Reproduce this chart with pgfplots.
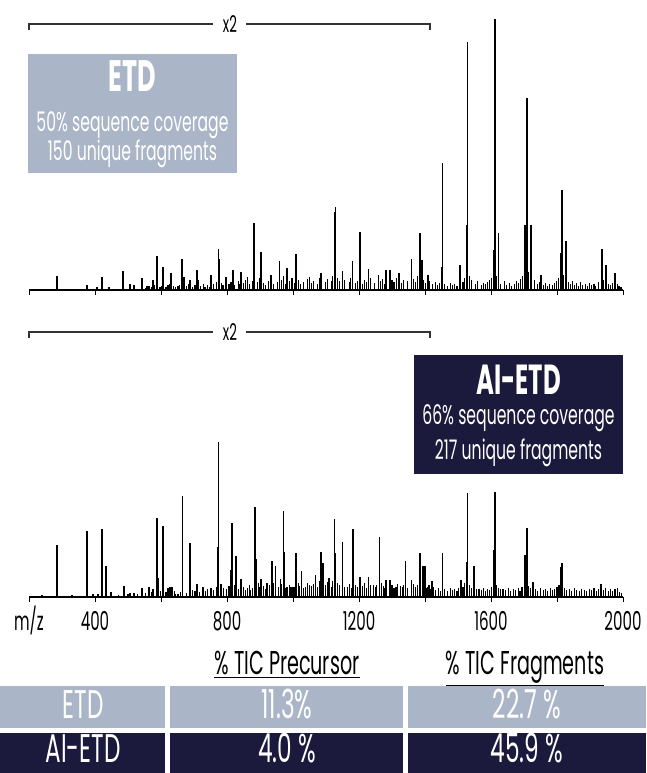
\documentclass[border=0pt]{standalone}
\usepackage{pgfplots}
\pgfplotsset{compat=1.18}
\usepackage{fontspec}
\setmainfont{Poppins}[FakeStretch=0.58]
\definecolor{etdc}{HTML}{AAB5C7}
\definecolor{aic}{HTML}{1B1A3D}
\newcommand\fs[1]{\fontsize{#1}{#1}\selectfont}
\pgfplotsset{spec/.style={scale only axis, width=594pt, xmin=200, xmax=2000, ymin=0,
  axis x line=bottom, axis y line=none, axis line style={-, line width=1.1pt},
  xtick={200,400,...,2000}, tick align=outside, major tick length=5pt,
  tick style={line width=0.9pt, black}, ytick=\empty, clip=false,
  /pgf/number format/assume math mode=true}}
\begin{document}
\begin{tikzpicture}
\path[use as bounding box] (0pt,0pt) rectangle (646pt,773pt);
% ---------------- top spectrum (ETD)
\begin{axis}[spec, at={(29pt,483pt)}, anchor=south west, height=271pt, ymax=271, xticklabels={}]
\addplot[ycomb, line width=1.1pt, no markers] coordinates {
(545,3)(553,2)(561,4)(570,3)(579,5)(597,3)(602,4)(615,3)(625,6)(637,4)(645,3)(655,5)(676,4)(684,6)(695,3)(703,5)(720,4)(728,6)(740,5)(746,3)(760,6)(768,8)(782,7)(790,5)(796,4)(806,6)
(812,8)(822,5)(834,9)(838,6)(849,7)(856,10)(868,6)(876,9)(893,8)(898,12)(910,7)(916,5)(927,9)(940,6)(952,8)(966,10)(978,6)(990,9)(997,12)(1004,7)(1017,10)(1022,6)(1032,8)(1043,11)(1057,7)(1062,9)(1074,6)(1080,12)(1098,8)(1104,11)(1116,9)(1120,14)(1135,12)(1140,9)(1157,10)(1170,8)(1175,12)(1190,7)(1196,9)(1210,6)(1216,10)(1222,8)(1236,12)(1248,7)(1266,9)(1272,11)(1278,6)(1300,10)(1306,8)(1314,12)(1330,7)(1336,10)(1348,9)(1366,11)(1372,8)(1378,14)(1396,10)(1402,7)(1414,9)(1424,6)(1432,8)(1438,5)(1444,7)
(1460,6)(1468,4)(1476,7)(1484,5)(1490,6)(1497,4)(1515,8)(1520,12)(1535,14)(1541,10)(1552,6)(1558,9)(1570,5)(1577,7)(1584,6)(1590,8)(1596,10)(1602,12)(1617,14)(1630,6)(1642,9)(1648,5)(1655,7)(1662,4)(1670,6)(1677,9)(1684,7)(1690,11)(1696,14)(1714,18)(1733,10)(1740,6)(1746,8)(1758,5)(1765,7)(1772,4)(1778,6)(1785,5)(1792,7)(1798,9)(1805,12)(1821,15)(1834,8)(1840,6)(1847,9)(1853,5)(1860,7)(1866,4)(1872,8)(1878,5)(1885,6)(1892,4)(1898,7)(1905,5)(1912,6)(1918,4)(1925,8)(1942,10)(1955,6)(1962,5)(1968,7)(1982,6)(1988,4)(1994,3)};
\addplot[ycomb, line width=1.8pt, no markers] coordinates {
(285,14)(376,5)(406,3)(422,13)(443,3)(485,19)(507,6)(519,5)(543,12)(558,4)(564,4)(576,10)(588,34)(607,23)(622,5)(631,17)(652,4)(664,31)(670,13)(689,10)(710,20)(713,10)(734,3)(752,15)(774,41)(777,31)(786,5)(798,13)(819,20)(843,18)(862,13)(883,67)(904,38)(934,15)(959,29)(971,14)(983,22)(1010,36)(1050,13)(1086,17)(1126,78)(1129,83)(1150,19)(1180,29)(1202,58)(1229,21)(1259,15)(1283,20)(1293,20)(1320,17)(1359,31)(1384,57)(1390,30)(1408,15)(1450,23)(1453,127)(1505,25)(1526,65)(1529,248)(1608,40)(1611,271)(1623,57)(1702,65)(1708,192)(1721,65)(1751,15)(1812,37)(1815,100)(1827,49)(1936,41)(1948,25)(1975,17)};
\end{axis}
% ---------------- bottom spectrum (AI-ETD)
\begin{axis}[spec, at={(29pt,176pt)}, anchor=south west, height=155pt, ymax=155,
  xticklabels={m/z,400,,800,,1200,,1600,,2000},
  xticklabel style={font=\fs{26}, anchor=base, yshift=-29pt}]
\addplot[ycomb, line width=1.1pt, no markers] coordinates {
(470,2)(500,3)(530,3)(552,4)(570,5)(598,6)(615,5)(640,6)(658,5)(676,4)(695,7)(703,6)(718,5)(735,6)(742,8)(760,7)(768,10)(790,9)(798,8)(806,11)(822,12)(835,8)(850,10)(856,7)(868,12)(876,9)(895,14)(898,10)(910,11)(916,8)(928,12)(940,14)(955,10)(966,13)(978,9)(990,12)(1006,10)(1016,14)(1020,11)(1032,9)(1044,14)(1056,11)(1062,13)(1074,10)(1080,16)(1098,12)(1104,15)(1116,10)(1120,16)(1135,14)(1140,12)(1156,10)(1170,13)(1176,9)(1190,12)(1196,10)(1210,11)(1216,14)(1222,9)(1236,12)(1250,10)(1268,14)(1274,11)(1278,9)(1300,12)(1306,9)(1316,13)(1332,10)(1336,12)(1348,9)(1366,13)(1372,10)(1378,12)(1404,9)(1416,8)(1426,10)(1432,7)(1440,9)(1446,6)
(1460,8)(1468,6)(1476,9)(1484,7)(1490,8)(1497,6)(1502,9)(1515,10)(1520,14)(1535,12)(1541,9)(1555,8)(1570,7)(1577,9)(1584,6)(1590,8)(1596,7)(1602,10)(1617,12)(1624,9)(1630,8)(1645,7)(1652,9)(1660,6)(1668,8)(1675,7)(1682,9)(1688,6)(1694,10)(1714,11)(1720,9)(1735,8)(1742,6)(1750,9)(1758,7)(1765,8)(1772,6)(1780,9)(1786,7)(1793,8)(1800,10)(1806,12)(1822,9)(1830,7)(1838,8)(1845,6)(1852,9)(1860,7)(1868,6)(1875,8)(1882,7)(1890,6)(1898,8)(1905,7)(1912,9)(1920,6)(1927,8)(1940,7)(1948,9)(1955,6)(1962,8)(1968,6)(1982,9)(1990,5)(1996,4)};
\addplot[ycomb, line width=1.8pt, no markers] coordinates {
(209,1)(239,2)(285,52)(331,2)(376,66)(394,3)(409,3)(422,68)(434,31)(449,5)(488,11)(507,4)(519,4)(543,9)(564,10)(576,8)(588,79)(591,19)(607,71)(622,9)(628,10)(634,10)(643,3)(652,3)(665,101)(689,54)(710,13)(728,10)(752,9)(771,50)(774,155)(783,13)(813,27)(816,74)(828,41)(843,18)(862,9)(871,7)(886,90)(889,38)(904,18)(922,14)(937,36)(947,31)(962,18)(971,86)(974,45)(983,10)(995,10)(1001,10)(1010,44)(1026,26)(1038,10)(1050,12)(1068,22)(1086,45)(1092,34)(1110,19)(1126,78)(1129,44)(1150,55)(1165,10)(1183,68)(1202,20)(1229,20)(1244,12)(1253,12)(1262,60)(1283,17)(1293,17)(1311,10)(1326,11)(1341,36)(1359,17)(1384,44)(1393,31)(1399,31)(1408,10)(1411,12)(1420,16)(1453,44)(1508,17)(1526,35)(1529,104)(1548,31)(1563,8)(1608,47)(1611,105)(1636,8)(1702,42)(1708,69)(1727,15)(1812,30)(1815,34)(1933,13)(1975,8)};
\end{axis}
\begin{scope}[x=1pt,y=1pt]
% ---------------- x2 brackets
\foreach \yy in {749,441}{
  \draw[line width=1.2pt, black!80] (29,\yy-6) -- (29,\yy) -- (213,\yy);
  \draw[line width=1.2pt, black!80] (246,\yy) -- (430,\yy) -- (430,\yy-6);
  \node[font=\fs{23}, inner sep=0pt] at (230,\yy) {x2};
}
% ---------------- ETD box
\fill[etdc] (28,600) rectangle (237,719);
\node[white, font=\bfseries\fs{44}, anchor=base, inner sep=0pt] at (132.5,681) {ETD};
\node[white, font=\fs{27}, anchor=base, inner sep=0pt] at (132.5,641) {50\% sequence coverage};
\node[white, font=\fs{27}, anchor=base, inner sep=0pt] at (132.5,612) {150 unique fragments};
% ---------------- AI-ETD box
\fill[aic] (414,299) rectangle (623,418);
\node[white, font=\bfseries\fs{42}, anchor=base, inner sep=0pt] at (518.5,378) {AI-ETD};
\node[white, font=\fs{27}, anchor=base, inner sep=0pt] at (518.5,348) {66\% sequence coverage};
\node[white, font=\fs{27}, anchor=base, inner sep=0pt] at (518.5,313) {217 unique fragments};
% ---------------- table
\node[font=\fs{33}, anchor=base, inner sep=0pt] at (287,98) {\underline{\% TIC Precursor}};
\node[font=\fs{33}, anchor=base, inner sep=0pt] at (525,98) {\underline{\% TIC Fragments}};
\fill[etdc] (0,45) rectangle (165,87);
\fill[etdc] (170,45) rectangle (403,87);
\fill[etdc] (408,45) rectangle (646,87);
\fill[aic] (0,0) rectangle (165,40);
\fill[aic] (170,0) rectangle (403,40);
\fill[aic] (408,0) rectangle (646,40);
\foreach \x/\t in {83/ETD, 287/11.3\%, 527/22.7 \%}
  \node[white, font=\fs{40}, anchor=base, inner sep=0pt] at (\x,54) {\t};
\foreach \x/\t in {83/AI-ETD, 287/4.0 \%, 527/45.9 \%}
  \node[white, font=\fs{40}, anchor=base, inner sep=0pt] at (\x,10) {\t};
\end{scope}
\end{tikzpicture}
\end{document}
